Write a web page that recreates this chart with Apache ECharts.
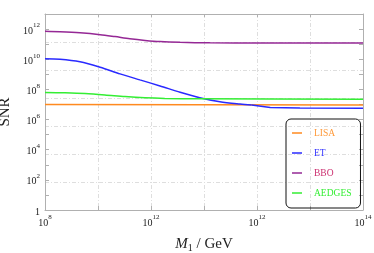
<!DOCTYPE html>
<html><head><meta charset="utf-8">
<script src="https://cdn.jsdelivr.net/npm/echarts@6/dist/echarts.min.js"></script>
<style>html,body{margin:0;padding:0;background:#fff}#c{width:374px;height:253px}</style>
</head><body><div id="c"></div>
<script>
// Data as log10 exponents
const seriesNames = ['LISA', 'ET', 'BBO', 'AEDGES'];
const lisaLogM = [8.0, 11.0, 14.0];
const lisaLogSNR = [7.0, 6.98, 6.96];
// ET has a small vertical step near M1 ~ 10^11.9
const etLogM = [8.0, 8.283, 8.66, 9.04, 9.415, 9.79, 10.17, 10.55, 10.92, 11.30, 11.68, 11.9];
const etLogSNR = [10.03, 10.0, 9.83, 9.47, 9.03, 8.63, 8.23, 7.81, 7.45, 7.18, 7.03, 6.97];
const etTailLogM = [11.9, 11.9, 12.25, 12.81, 14.0];
const etTailLogSNR = [6.97, 6.85, 6.8, 6.77, 6.75];
const bboLogM = [8.0, 8.283, 8.66, 9.04, 9.32, 9.6, 9.887, 10.17, 10.55, 11.11, 12.06, 14.0];
const bboLogSNR = [11.85, 11.82, 11.75, 11.63, 11.5, 11.36, 11.25, 11.17, 11.12, 11.09, 11.08, 11.07];
const aedgesLogM = [8.0, 8.377, 8.755, 9.13, 9.51, 9.887, 10.26, 10.92, 14.0];
const aedgesLogSNR = [7.8, 7.77, 7.72, 7.63, 7.52, 7.44, 7.4, 7.38, 7.35];
// Tick labels (x labels as printed in the original figure)
const xTickExps = [8, 10, 12, 14];
const xTickSup = ['8', '12', '12', '14'];
const yTickExps = [0, 2, 4, 6, 8, 10, 12];
const yTickSup = ['', '2', '4', '6', '8', '10', '12'];

const lineColors = ['#ff8a1f', '#2a2aff', '#952895', '#33ee33'];
const legendTextColors = ['#ff9a3a', '#3535ff', '#cc3070', '#33ee33'];

function pairs(lm, ls) { return lm.map((m, i) => [Math.pow(10, m), Math.pow(10, ls[i])]); }

const FONT = 'Liberation Serif';
const AX = '#b0b0b0';
const rich = {
  b: {fontFamily: FONT, fontSize: 10, color: '#222', lineHeight: 14, verticalAlign: 'bottom'},
  s: {fontFamily: FONT, fontSize: 7, color: '#222', lineHeight: 8, verticalAlign: 'top'}
};
function xFmt(v) {
  const e = Math.round(Math.log10(v));
  const i = xTickExps.indexOf(e);
  return i < 0 ? '' : '{b|10}{s|' + xTickSup[i] + '}';
}
function yFmt(v) {
  const e = Math.round(Math.log10(v));
  const i = yTickExps.indexOf(e);
  if (i < 0) return '';
  return yTickSup[i] === '' ? '{b|1}' : '{b|10}{s|' + yTickSup[i] + '}';
}
const dash = {color: '#dedede', width: 1, type: [4, 2, 1, 2]};

function mkSeries(name, color, data, smooth) {
  return {name: name, type: 'line', xAxisIndex: 0, yAxisIndex: 0, data: data,
    showSymbol: false, smooth: smooth,
    lineStyle: {color: color, width: 1.5}, itemStyle: {color: color}};
}

const chart = echarts.init(document.getElementById('c'), null, {renderer: 'canvas'});
chart.setOption({
  animation: false,
  grid: {left: 45, right: 11, top: 14, bottom: 43, containLabel: false, outerBoundsMode: 'none'},
  xAxis: [
    {type: 'log', logBase: 10, min: 1e8, max: 1e14, interval: 1, position: 'bottom',
     axisLine: {onZero: false, lineStyle: {color: AX}}, axisTick: {inside: true, length: 4, lineStyle: {color: AX}},
     axisLabel: {formatter: xFmt, rich: rich, margin: 4},
     splitLine: {show: true, lineStyle: dash},
     name: '{i|M}{u|1}{t| / GeV}', nameLocation: 'middle', nameGap: 25,
     nameTextStyle: {rich: {
       i: {fontFamily: FONT, fontStyle: 'italic', fontSize: 15, color: '#222', lineHeight: 18, verticalAlign: 'middle'},
       u: {fontFamily: FONT, fontSize: 10, color: '#222', lineHeight: 10, verticalAlign: 'bottom'},
       t: {fontFamily: FONT, fontSize: 15, color: '#222', lineHeight: 18, verticalAlign: 'middle'}},
       fontFamily: FONT, fontSize: 15, color: '#222'}},
    {type: 'log', logBase: 10, min: 1e8, max: 1e14, interval: 1, position: 'top',
     axisLine: {show: true, onZero: false, lineStyle: {color: AX}}, axisTick: {show: true, inside: true, length: 3, lineStyle: {color: AX}},
     axisLabel: {show: false}, splitLine: {show: false}}
  ],
  yAxis: [
    {type: 'log', logBase: 10, min: 1, max: 1e13, interval: 1, position: 'left',
     axisLine: {show: true, onZero: false, lineStyle: {color: AX}}, axisTick: {show: true, inside: true, length: 4, lineStyle: {color: AX}},
     axisLabel: {formatter: yFmt, rich: rich, margin: 5},
     splitLine: {show: false},
     name: 'SNR', nameLocation: 'middle', nameGap: 29,
     nameTextStyle: {fontFamily: FONT, fontSize: 15, color: '#222'}},
    {type: 'log', logBase: 10, min: 1, max: 1e13, interval: 1, position: 'right',
     axisLine: {show: true, onZero: false, lineStyle: {color: AX}}, axisTick: {show: true, inside: true, length: 4, lineStyle: {color: AX}},
     axisLabel: {show: false}, splitLine: {show: false}},
    {type: 'log', logBase: 10, min: 1, max: 1e14, interval: 2, position: 'left',
     axisLine: {show: false, onZero: false}, axisTick: {show: false}, axisLabel: {show: false},
     splitLine: {show: true, lineStyle: dash}}
  ],
  legend: {
    orient: 'vertical', left: 286, top: 119,
    borderColor: '#111', borderWidth: 1, borderRadius: 5,
    padding: [8, 9, 9, 6], itemGap: 8,
    icon: 'rect', itemWidth: 10, itemHeight: 1.5,
    textStyle: {fontFamily: FONT, fontSize: 9.5, padding: [0, 0, 0, 7], lineHeight: 12},
    data: seriesNames.map((n, i) => ({name: n, textStyle: {color: legendTextColors[i]}}))
  },
  series: [
    mkSeries('LISA', lineColors[0], pairs(lisaLogM, lisaLogSNR), false),
    mkSeries('ET', lineColors[1], pairs(etLogM, etLogSNR), 0.3),
    mkSeries('ET', lineColors[1], pairs(etTailLogM, etTailLogSNR), false),
    mkSeries('BBO', lineColors[2], pairs(bboLogM, bboLogSNR), 0.3),
    mkSeries('AEDGES', lineColors[3], pairs(aedgesLogM, aedgesLogSNR), 0.3)
  ]
});
</script></body></html>
